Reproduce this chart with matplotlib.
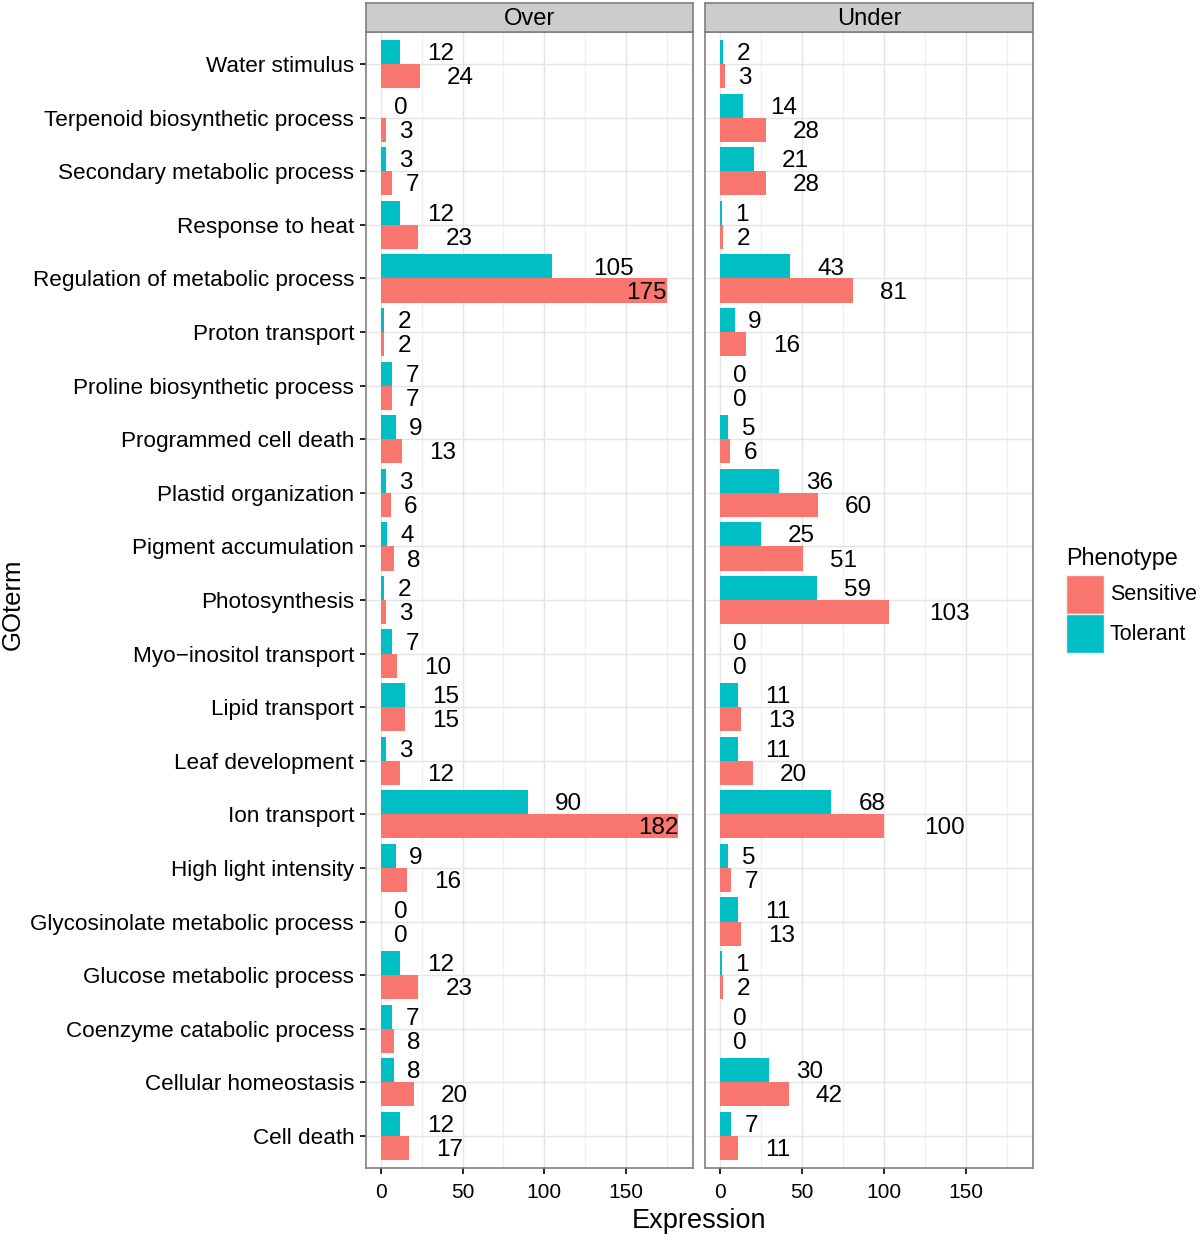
import matplotlib
matplotlib.use("Agg")
import matplotlib.pyplot as plt
from matplotlib.patches import Rectangle

plt.rcParams['font.family'] = ['Liberation Sans', 'DejaVu Sans']

# ---------- Data ----------
goterms = [
    "Water stimulus", "Terpenoid biosynthetic process", "Secondary metabolic process",
    "Response to heat", "Regulation of metabolic process", "Proton transport",
    "Proline biosynthetic process", "Programmed cell death", "Plastid organization",
    "Pigment accumulation", "Photosynthesis", "Myo\u2212inositol transport",
    "Lipid transport", "Leaf development", "Ion transport", "High light intensity",
    "Glycosinolate metabolic process", "Glucose metabolic process",
    "Coenzyme catabolic process", "Cellular homeostasis", "Cell death",
]
over_tolerant = [12, 0, 3, 12, 105, 2, 7, 9, 3, 4, 2, 7, 15, 3, 90, 9, 0, 12, 7, 8, 12]
over_sensitive = [24, 3, 7, 23, 175, 2, 7, 13, 6, 8, 3, 10, 15, 12, 182, 16, 0, 23, 8, 20, 17]
under_tolerant = [2, 14, 21, 1, 43, 9, 0, 5, 36, 25, 59, 0, 11, 11, 68, 5, 11, 1, 0, 30, 7]
under_sensitive = [3, 28, 28, 2, 81, 16, 0, 6, 60, 51, 103, 0, 13, 20, 100, 7, 13, 2, 0, 42, 11]
facets = ["Over", "Under"]
x_ticks = [0, 50, 100, 150]

COL_SENS = "#F8766D"
COL_TOL = "#00BFC4"

W, H = 1200, 1246
fig = plt.figure(figsize=(W / 100, H / 100), dpi=100)

def fx(px):
    return px / W

def fy(py):
    return 1 - py / H

panel_top, panel_bot = 32, 1168
strip_top = 3
panels_x = [(366, 693), (705, 1033)]

xmax = max(max(over_sensitive), max(under_sensitive))
xlim = (-0.05 * xmax, 1.05 * xmax)
n = len(goterms)
LABEL_FS = 17.5

data = [(over_tolerant, over_sensitive), (under_tolerant, under_sensitive)]

for k, ((x0, x1), name) in enumerate(zip(panels_x, facets)):
    ax = fig.add_axes([fx(x0), fy(panel_bot), fx(x1 - x0), (panel_bot - panel_top) / H])
    tol, sens = data[k]
    ypos = list(range(n))
    ax.barh([y - 0.225 for y in ypos], tol, height=0.45, color=COL_TOL, zorder=3)
    ax.barh([y + 0.225 for y in ypos], sens, height=0.45, color=COL_SENS, zorder=3)
    for y, t, s in zip(ypos, tol, sens):
        for v, yy in ((t, y - 0.225), (s, y + 0.225)):
            txt = str(v)
            if v > 170:
                # labels of the longest bars sit inside the bar end
                ax.annotate(txt, xy=(v, yy), xytext=(0, -1.5), textcoords="offset points",
                            ha="right", va="center", fontsize=LABEL_FS, zorder=4)
            else:
                off = len(txt) * 0.556 * LABEL_FS
                ax.annotate(txt, xy=(v, yy), xytext=(off, -1.5), textcoords="offset points",
                            ha="left", va="center", fontsize=LABEL_FS, zorder=4,
                            annotation_clip=False)
    ax.set_xlim(*xlim)
    ax.set_ylim(n - 0.4, -0.6)
    ax.set_xticks(x_ticks)
    ax.set_xticklabels([str(t) for t in x_ticks])
    ax.set_xticks([25, 75, 125, 175], minor=True)
    ax.set_yticks(ypos)
    ax.grid(True, which="major", color="#E5E5E5", linewidth=1.0, zorder=0)
    ax.grid(True, which="minor", axis="x", color="#F0F0F0", linewidth=1.0, zorder=0)
    ax.tick_params(axis="x", which="major", length=4.5, width=1.2, labelsize=15,
                   colors="black", pad=6.5)
    ax.tick_params(axis="x", which="minor", length=0)
    ax.tick_params(axis="y", length=4.5, width=1.2, labelsize=16.2, colors="black", pad=4)
    if k == 0:
        ax.set_yticklabels(goterms)
    else:
        ax.set_yticklabels([])
        ax.tick_params(axis="y", length=0)
    for sp in ax.spines.values():
        sp.set_color("#7F7F7F")
        sp.set_linewidth(1.2)

    # facet strip
    sax = fig.add_axes([fx(x0), fy(panel_top), fx(x1 - x0), (panel_top - strip_top) / H])
    sax.set_facecolor("#CCCCCC")
    sax.set_xticks([])
    sax.set_yticks([])
    for sp in sax.spines.values():
        sp.set_color("#7F7F7F")
        sp.set_linewidth(1.2)
    sax.text(0.5, 0.45, name, ha="center", va="center", fontsize=17,
             transform=sax.transAxes)

fig.text(fx(699), fy(1221), "Expression", ha="center", va="center", fontsize=19.5)
fig.text(fx(13), fy(604), "GOterm", ha="center", va="center", fontsize=18.5, rotation=90)

# legend
fig.text(fx(1066), fy(558), "Phenotype", ha="left", va="center", fontsize=16.8)
for py, col, lab in ((575, COL_SENS, "Sensitive"), (614, COL_TOL, "Tolerant")):
    fig.patches.append(Rectangle((fx(1066), fy(py + 39)), fx(38), 39 / H,
                                 transform=fig.transFigure, facecolor=col,
                                 edgecolor="#F2F2F2", linewidth=1))
    fig.text(fx(1110), fy(py + 20), lab, ha="left", va="center", fontsize=15.5)

fig.savefig("out.png", dpi=100, facecolor="white")
